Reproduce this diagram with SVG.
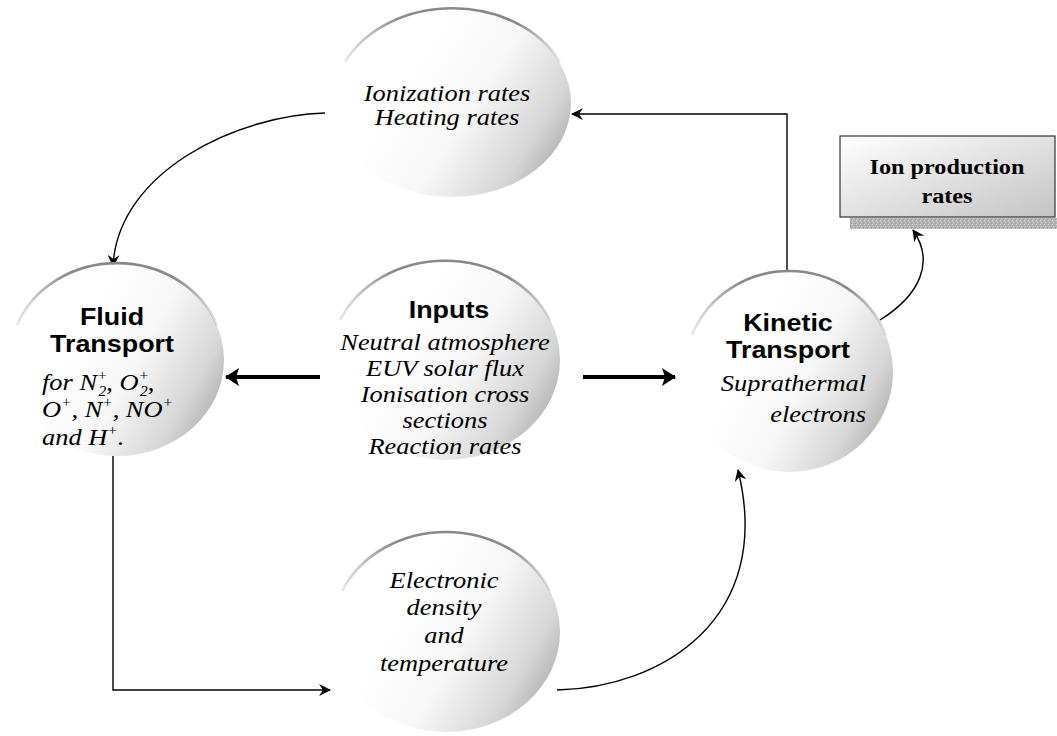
<svg xmlns="http://www.w3.org/2000/svg" width="1057" height="736" viewBox="0 0 1057 736">
<style>
.b{font-family:"Liberation Sans",Arial,sans-serif;font-weight:bold;font-size:24px;fill:#000}
.i{font-family:"Liberation Serif","Times New Roman",serif;font-style:italic;font-size:24px;fill:#000}
.bs{font-family:"Liberation Serif","Times New Roman",serif;font-weight:bold;font-size:22px;fill:#000}
.sm{font-size:14px}
.ball{fill:url(#sphere)}
.rim{fill:none;stroke:url(#rimg);stroke-width:2.6}
.c{fill:none;stroke:#000;stroke-width:1.4}
.thick{fill:none;stroke:#000;stroke-width:4}
</style>
<defs>
<linearGradient id="sphere" x1="0.3" y1="0.4" x2="1" y2="0.75">
<stop offset="0" stop-color="#ffffff"/>
<stop offset="0.4" stop-color="#f7f7f7"/>
<stop offset="0.78" stop-color="#d6d6d6"/>
<stop offset="1" stop-color="#adadad"/>
</linearGradient>
<linearGradient id="rimg" x1="0" y1="0" x2="1" y2="0">
<stop offset="0" stop-color="#8a8a8a" stop-opacity="0.2"/>
<stop offset="0.25" stop-color="#888"/>
<stop offset="0.8" stop-color="#888"/>
<stop offset="1" stop-color="#8a8a8a" stop-opacity="0.2"/>
</linearGradient>
<linearGradient id="boxg" x1="0" y1="0" x2="1" y2="1">
<stop offset="0" stop-color="#ffffff"/>
<stop offset="1" stop-color="#c4c4c4"/>
</linearGradient>
<pattern id="speck" width="4" height="4" patternUnits="userSpaceOnUse">
<rect width="4" height="4" fill="#b4b4b4"/>
<rect x="0" y="0" width="1" height="1" fill="#d8d8d8"/>
<rect x="2" y="1" width="1" height="1" fill="#9c9c9c"/>
<rect x="1" y="2" width="1" height="1" fill="#d0d0d0"/>
<rect x="3" y="3" width="1" height="1" fill="#a0a0a0"/>
</pattern>
<marker id="ah" markerUnits="userSpaceOnUse" viewBox="0 0 12 12" refX="11" refY="6" markerWidth="12" markerHeight="12" orient="auto">
<path d="M0,0 L12,6 L0,12 L4,6 z" fill="#000"/>
</marker>
<marker id="ahT" markerUnits="userSpaceOnUse" viewBox="0 0 14 18" refX="13" refY="9" markerWidth="14" markerHeight="18" orient="auto">
<path d="M0,0 L14,9 L0,18 L3,9 z" fill="#000"/>
</marker>
</defs>
<rect width="1057" height="736" fill="#fff"/>

<g id="connectors">
<path class="c" d="M787,273 V114 H572" marker-end="url(#ah)"/>
<path class="c" d="M325,113 C240,115 118,170 113,266" marker-end="url(#ah)"/>
<path class="thick" d="M320,377 H226" marker-end="url(#ahT)"/>
<path class="thick" d="M583,377 H675" marker-end="url(#ahT)"/>
<path class="c" d="M113,456 V690 H330" marker-end="url(#ah)"/>
<path class="c" d="M557,690 C660,688 775,620 738,470" marker-end="url(#ah)"/>
<path class="c" d="M880,320 C920,295 935,262 913,230" marker-end="url(#ah)"/>
</g>

<g id="ionization">
<ellipse class="ball" cx="452" cy="103" rx="119" ry="94"/>
<path class="rim" d="M345,62 A119,94 0 0 1 560,62"/>
<g transform="translate(447,0) scale(1.1,1)">
<text class="i" x="0" y="101" text-anchor="middle">Ionization rates</text>
<text class="i" x="0" y="125" text-anchor="middle">Heating rates</text>
</g>
</g>

<g id="fluid">
<ellipse class="ball" cx="117" cy="360" rx="107" ry="96"/>
<path class="rim" d="M17,325 A107,96 0 0 1 217,325"/>
<g transform="translate(112,0) scale(1.12,1)">
<text class="b" x="0" y="325" text-anchor="middle">Fluid</text>
<text class="b" x="0" y="352" text-anchor="middle">Transport</text>
</g>
<g transform="translate(42,0) scale(1.1,1)">
<text class="i" x="0" y="390">for N<tspan class="sm" dy="-10">+</tspan><tspan class="sm" dx="-8" dy="16">2</tspan><tspan dy="-6">, O</tspan><tspan class="sm" dy="-10">+</tspan><tspan class="sm" dx="-8" dy="16">2</tspan><tspan dy="-6">,</tspan></text>
<text class="i" x="0" y="417">O<tspan class="sm" dy="-10">+</tspan><tspan dy="10">, N</tspan><tspan class="sm" dy="-10">+</tspan><tspan dy="10">, NO</tspan><tspan class="sm" dy="-10">+</tspan></text>
<text class="i" x="0" y="445">and H<tspan class="sm" dy="-10">+</tspan><tspan dy="10">.</tspan></text>
</g>
</g>

<g id="inputs">
<ellipse class="ball" cx="445" cy="360" rx="115" ry="100"/>
<path class="rim" d="M340,320 A115,100 0 0 1 550,320"/>
<g transform="translate(449,0) scale(1.12,1)">
<text class="b" x="0" y="318" text-anchor="middle">Inputs</text>
</g>
<g transform="translate(445,0) scale(1.1,1)">
<text class="i" x="0" y="350" text-anchor="middle">Neutral atmosphere</text>
<text class="i" x="0" y="376" text-anchor="middle">EUV solar flux</text>
<text class="i" x="0" y="402" text-anchor="middle">Ionisation cross</text>
<text class="i" x="0" y="428" text-anchor="middle">sections</text>
<text class="i" x="0" y="454" text-anchor="middle">Reaction rates</text>
</g>
</g>

<g id="kinetic">
<ellipse class="ball" cx="789" cy="372" rx="104" ry="100"/>
<path class="rim" d="M692,335 A104,100 0 0 1 886,335"/>
<g transform="translate(788,0) scale(1.12,1)">
<text class="b" x="0" y="331" text-anchor="middle">Kinetic</text>
<text class="b" x="0" y="358" text-anchor="middle">Transport</text>
</g>
<g transform="translate(866,0) scale(1.1,1)">
<text class="i" x="0" y="391" text-anchor="end">Suprathermal</text>
<text class="i" x="0" y="422" text-anchor="end">electrons</text>
</g>
</g>

<g id="electronic">
<ellipse class="ball" cx="446" cy="632" rx="114" ry="100"/>
<path class="rim" d="M342,591 A114,100 0 0 1 550,591"/>
<g transform="translate(444,0) scale(1.1,1)">
<text class="i" x="0" y="588" text-anchor="middle">Electronic</text>
<text class="i" x="0" y="615" text-anchor="middle">density</text>
<text class="i" x="0" y="643" text-anchor="middle">and</text>
<text class="i" x="0" y="671" text-anchor="middle">temperature</text>
</g>
</g>

<g id="ionproduction">
<rect x="850" y="218" width="207" height="11" fill="url(#speck)"/>
<rect x="840" y="136" width="215" height="81" fill="url(#boxg)" stroke="#333" stroke-width="1.2"/>
<g transform="translate(947,0) scale(1.1,1)">
<text class="bs" x="0" y="174" text-anchor="middle">Ion production</text>
<text class="bs" x="0" y="203" text-anchor="middle">rates</text>
</g>
</g>
</svg>
